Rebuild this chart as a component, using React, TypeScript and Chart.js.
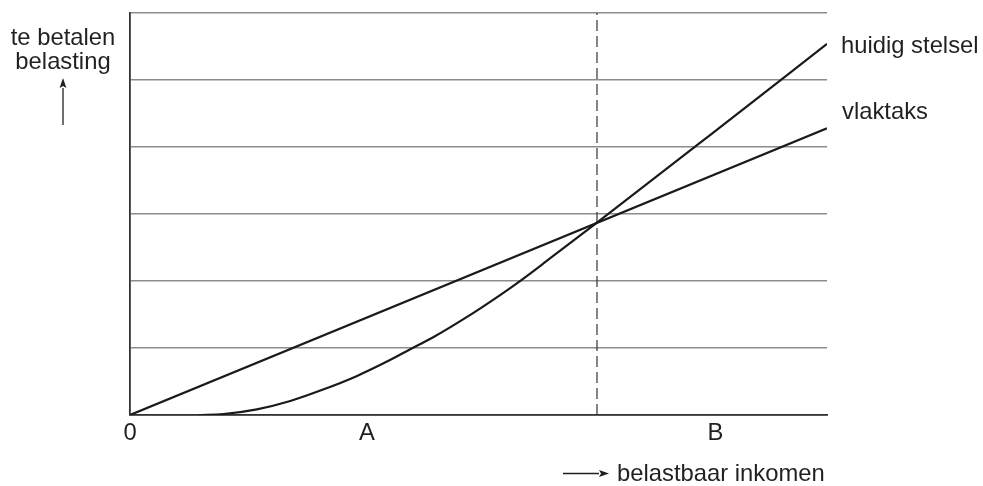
import React, { useEffect, useRef } from "react";
import { Chart, registerables } from "chart.js";

Chart.register(...registerables);

// ---- data ----
const xTickValues = [0, 34, 84];
const xTickLabels = ["0", "A", "B"];
const vlaktaksX = [0, 100];
const vlaktaksY = [0, 4.28];
const huidigX = [9.8, 13.4, 18.2, 23, 27.7, 32.5, 37.3, 40.2, 43.5, 48.3, 53.1, 55.7, 60.3, 67, 83.5, 100];
const huidigY = [0, 0.015, 0.085, 0.21, 0.38, 0.58, 0.82, 0.98, 1.16, 1.46, 1.79, 1.98, 2.34, 2.87, 4.2, 5.54];
const breakX = 67;
const yMax = 6;
const seriesNames = ["huidig stelsel", "vlaktaks"];
const yAxisTitle = ["te betalen", "belasting"];
const xAxisTitle = "belastbaar inkomen";

const FONT = '"Liberation Sans", Arial, Helvetica, sans-serif';
const FSIZE = 23.8;
const INK = "#231f20";

function arrow(ctx: CanvasRenderingContext2D, x1: number, y1: number, x2: number, y2: number) {
  const ang = Math.atan2(y2 - y1, x2 - x1);
  const len = 10;
  const half = 3.4;
  const bx = x2 - len * Math.cos(ang);
  const by = y2 - len * Math.sin(ang);
  ctx.beginPath();
  ctx.moveTo(x1, y1);
  ctx.lineTo(bx, by);
  ctx.lineWidth = 1.3;
  ctx.strokeStyle = INK;
  ctx.stroke();
  ctx.beginPath();
  ctx.moveTo(x2, y2);
  ctx.lineTo(bx - half * Math.sin(ang), by + half * Math.cos(ang));
  ctx.lineTo(bx + len * 0.2 * Math.cos(ang), by + len * 0.2 * Math.sin(ang));
  ctx.lineTo(bx + half * Math.sin(ang), by - half * Math.cos(ang));
  ctx.closePath();
  ctx.fillStyle = INK;
  ctx.fill();
}

const labelsPlugin = {
  id: "labelsPlugin",
  afterDraw(chart: any) {
    const { ctx, chartArea, scales } = chart;
    const ys = scales.y;
    ctx.save();
    ctx.font = `${FSIZE}px ${FONT}`;
    ctx.fillStyle = INK;
    ctx.textBaseline = "alphabetic";
    // y-axis title
    ctx.textAlign = "center";
    const cx = 63;
    ctx.fillText(yAxisTitle[0], cx, chartArea.top + 32);
    ctx.fillText(yAxisTitle[1], cx, chartArea.top + 56);
    arrow(ctx, cx, chartArea.top + 112, cx, chartArea.top + 65);
    // series labels at the line ends
    ctx.textAlign = "left";
    const hEnd = ys.getPixelForValue(huidigY[huidigY.length - 1]);
    const vEnd = ys.getPixelForValue(vlaktaksY[vlaktaksY.length - 1]);
    ctx.fillText(seriesNames[0], chartArea.right + 14, hEnd + 9);
    ctx.fillText(seriesNames[1], chartArea.right + 15, vEnd - 9);
    // x-axis title
    const tx = 617;
    const ty = chart.height - 5;
    ctx.fillText(xAxisTitle, tx, ty);
    arrow(ctx, tx - 54, ty - 7.5, tx - 8, ty - 7.5);
    ctx.restore();
  },
};

export default function App() {
  const ref = useRef<HTMLCanvasElement>(null);
  useEffect(() => {
    document.body.style.margin = "0";
    const canvas = ref.current!;
    const chart = new Chart(canvas, {
      type: "line",
      data: {
        datasets: [
          {
            label: seriesNames[0],
            data: huidigX.map((x, i) => ({ x, y: huidigY[i] })),
            borderColor: "#1a1a1a",
            borderWidth: 2.2,
            pointRadius: 0,
            cubicInterpolationMode: "monotone",
            fill: false,
          },
          {
            label: seriesNames[1],
            data: vlaktaksX.map((x, i) => ({ x, y: vlaktaksY[i] })),
            borderColor: "#1a1a1a",
            borderWidth: 2.2,
            pointRadius: 0,
            fill: false,
          },
          {
            label: "grens",
            data: [
              { x: breakX, y: 0 },
              { x: breakX, y: yMax },
            ],
            borderColor: "#333333",
            borderWidth: 1.2,
            borderDash: [11, 5],
            pointRadius: 0,
            fill: false,
          },
        ],
      },
      options: {
        responsive: false,
        animation: false,
        devicePixelRatio: 1,
        layout: { padding: { left: 0, right: 156, top: 13, bottom: 0 } },
        plugins: { legend: { display: false }, tooltip: { enabled: false } },
        scales: {
          x: {
            type: "linear",
            min: 0,
            max: 100,
            afterBuildTicks: (scale: any) => {
              scale.ticks = xTickValues.map((v) => ({ value: v }));
            },
            afterFit: (scale: any) => {
              scale.height = 71;
            },
            ticks: {
              autoSkip: false,
              maxRotation: 0,
              padding: 4,
              color: INK,
              font: { family: FONT, size: FSIZE },
              callback: (_v: any, i: number) => xTickLabels[i],
            },
            grid: { drawOnChartArea: false, drawTicks: false },
            border: { display: true, color: "#333333", width: 1.8 },
          },
          y: {
            type: "linear",
            min: 0,
            max: yMax,
            afterFit: (scale: any) => {
              scale.width = 130;
            },
            ticks: { display: false, stepSize: 1 },
            grid: { color: "#8c8c8c", lineWidth: 1.6, drawTicks: false },
            border: { display: true, color: "#333333", width: 1.8 },
          },
        },
      },
      plugins: [labelsPlugin],
    } as any);
    return () => chart.destroy();
  }, []);
  return <canvas ref={ref} width={983} height={486} style={{ display: "block" }} />;
}
